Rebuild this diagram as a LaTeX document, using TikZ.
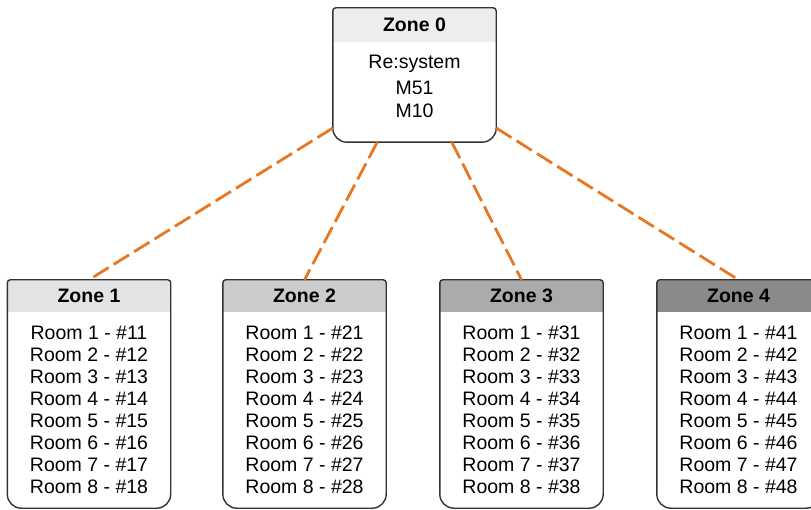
\documentclass[tikz,border=0pt]{standalone}
\usepackage{fontspec}
\setmainfont{Liberation Sans}
\usepackage{xcolor}
\usetikzlibrary{positioning}

\definecolor{linkorange}{HTML}{E87722}
\newcommand{\zfont}{\fontsize{19.5}{23}\selectfont}
% outline of a zone: small top corners, round bottom corners
\newcommand{\zoneoutline}[1]{%
  \draw[zoneline, rounded corners=3pt] ([yshift=-20pt]#1.north west) -- (#1.north west)
    -- (#1.north east) -- ([yshift=-20pt]#1.north east);
  \draw[zoneline, rounded corners=14pt] ([yshift=-20pt]#1.north east) -- (#1.south east)
    -- (#1.south west) -- ([yshift=-20pt]#1.north west);}

\tikzset{
  zonebox/.style={minimum width=163pt, inner sep=0pt},
  zoneline/.style={draw=black!80, line width=1.4pt},
  zonehead/.style={inner sep=0pt, font=\zfont\bfseries},
  link/.style={draw=linkorange, line width=2.8pt, dash pattern=on 18pt off 6pt}
}

\begin{document}
\begin{tikzpicture}[x=1pt, y=-1pt, every node/.style={font=\zfont}]
	\useasboundingbox (0,0) rectangle (811,510);
	% top zone
	\node[zonebox, minimum height=134pt] (z0) at (414.5,75) {};
	\fill[black!7] (z0.north west) rectangle ([yshift=-34pt]z0.north east);
	\node[zonehead] (h0) at (414.5,25) {Zone 0};
	\node (t0a) at (414.5,64) {Re:system};
	\node (t0b) at (414.5,87.5) {M51};
	\node (t0c) at (414.5,111) {M10};
	\zoneoutline{z0}
	% lower zones
	\foreach \z/\x/\c in {1/89/11,2/304.5/20,3/521.5/33,4/738.5/46} {
	  \node[zonebox, minimum height=228pt] (z\z) at (\x,394) {};
	  \fill[black!\c] (z\z.north west) rectangle ([yshift=-32pt]z\z.north east);
	  \node[zonehead] (h\z) at (\x,296) {Zone \z};
	  \foreach \r in {1,...,8}
	    \node (r\z\r) at (\x,{333+22*(\r-1)}) {Room \r\ - \#\z\r};
	  \zoneoutline{z\z}
	}
	% links
	\draw[link] (z0.213) -- (z1.north);
	\draw[link] (z0.241) -- (z2.north);
	\draw[link] (z0.299) -- (z3.north);
	\draw[link] (z0.327) -- (z4.north);
\end{tikzpicture}
\end{document}
